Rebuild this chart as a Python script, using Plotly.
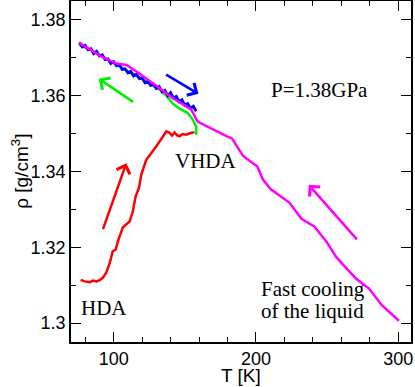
import plotly.graph_objects as go

# heating of HDA (red)
T_hda = [76.8, 79.6, 83.2, 85.5, 87.9, 90.2, 92.5, 94.9, 97.2, 99.3, 101.4, 103.7, 106.5,
         111.2, 113.5, 115.4, 117.8, 119.4, 122.9, 125.3, 127.5, 129.9, 133.7, 137.0,
         139.3, 141.0, 142.8, 144.5, 146.3, 148.5, 151.0, 153.5, 156.8]
rho_hda = [1.3114, 1.3110, 1.3108, 1.3112, 1.3110, 1.3113, 1.3120, 1.3134, 1.3158, 1.3189,
           1.3194, 1.3224, 1.3253, 1.3268, 1.3295, 1.3334, 1.3357, 1.3392, 1.3431, 1.3442,
           1.3452, 1.3466, 1.3487, 1.3506, 1.3502, 1.3495, 1.3503, 1.3496, 1.3493, 1.3499,
           1.3497, 1.3501, 1.3504]

# cooling of VHDA (green)
T_cool = [75.4, 83.2, 94.9, 104.2, 111.2, 118.2, 125.3, 132.3, 137.0, 141.6, 146.3,
          151.9, 155.6, 158.0, 158.0]
rho_cool = [1.3735, 1.3722, 1.3698, 1.3679, 1.3663, 1.3648, 1.3632, 1.3616, 1.3600,
            1.3579, 1.3566, 1.3555, 1.3537, 1.3518, 1.3497]

# reheating (blue)
T_heat = [76, 78, 80, 82, 84, 86, 88, 90, 92, 94, 96, 98, 100, 102, 104, 106, 108, 110,
          112, 114, 116, 118, 120, 122, 124, 126, 128, 130, 132, 134, 136, 138, 140, 142,
          144, 146, 148, 150, 152, 154, 156, 158]
rho_heat = [1.3740, 1.3729, 1.3733, 1.3721, 1.3724, 1.3711, 1.3717, 1.3705, 1.3708, 1.3695,
            1.3697, 1.3685, 1.3690, 1.3679, 1.3682, 1.3669, 1.3671, 1.3660, 1.3664, 1.3652,
            1.3657, 1.3645, 1.3647, 1.3634, 1.3638, 1.3627, 1.3631, 1.3619, 1.3624, 1.3610,
            1.3614, 1.3600, 1.3608, 1.3594, 1.3598, 1.3584, 1.3589, 1.3575, 1.3579, 1.3567,
            1.3572, 1.3559]

# fast cooling of the liquid (magenta)
T_fast = [75.5, 92.5, 102, 109, 116, 125, 132, 139, 146, 154.5, 159, 172, 180, 183, 191,
          201, 205, 210.5, 223.5, 232, 241, 249.5, 256.5, 263.5, 270.5, 279.5, 288.5, 300.5]
rho_fast = [1.3740, 1.3701, 1.3685, 1.3681, 1.3664, 1.3641, 1.3621, 1.3600, 1.3584, 1.3563,
            1.3532, 1.3506, 1.3492, 1.3488, 1.3441, 1.3413, 1.3378, 1.3353, 1.3318, 1.3275,
            1.3255, 1.3215, 1.3174, 1.3145, 1.3117, 1.3091, 1.3047, 1.3006]

y_ticks = [1.30, 1.32, 1.34, 1.36, 1.38]
y_ticktext = ["1.3", "1.32", "1.34", "1.36", "1.38"]

fig = go.Figure()
for T, rho, col, w in [(T_hda, rho_hda, "#ff0000", 2.5), (T_cool, rho_cool, "#00ee00", 2.5),
                       (T_heat, rho_heat, "#0000ff", 2.8), (T_fast, rho_fast, "#ff00ff", 2.5)]:
    fig.add_trace(go.Scatter(x=T, y=rho, mode="lines", line=dict(color=col, width=w),
                             showlegend=False))

# arrows: (tail T, tail rho, head T, head rho, colour)
arrows = [
    (92.1, 1.3244, 108.9, 1.3422, "#ff0000"),
    (114.7, 1.3581, 89.5, 1.3645, "#00ee00"),
    (135.8, 1.3658, 159.6, 1.3605, "#0000ff"),
    (271.9, 1.3217, 237.1, 1.3365, "#ff00ff"),
]
for tx, ty, hx, hy, col in arrows:
    fig.add_annotation(x=hx, y=hy, ax=tx, ay=ty, xref="x", yref="y", axref="x", ayref="y",
                       showarrow=True, arrowhead=4, arrowsize=1.1, arrowwidth=2.5,
                       arrowcolor=col, text="")

serif = dict(family="Liberation Serif", size=21, color="black")
labels = [
    ("P=1.38GPa", 244.6, 1.3616, "center"),
    ("VHDA", 164.6, 1.3427, "center"),
    ("HDA", 93.2, 1.3040, "center"),
    ("Fast cooling", 202.0, 1.3091, "left"),
    ("of the liquid", 202.0, 1.3033, "left"),
]
for txt, x, y, anchor in labels:
    fig.add_annotation(x=x, y=y, text=txt, showarrow=False, xanchor=anchor, font=serif)

# axis titles placed by hand so they sit where the reference has them
sans = dict(family="Liberation Sans", size=19, color="black")
fig.add_annotation(x=-0.152, y=0.5, xref="paper", yref="paper", text="ρ [g/cm<sup>3</sup>]",
                   textangle=-90, showarrow=False, xanchor="center", yanchor="middle",
                   font=sans)
fig.add_annotation(x=0.5, y=-0.097, xref="paper", yref="paper", text="T [K]",
                   showarrow=False, xanchor="center", yanchor="middle", font=sans)

axis_common = dict(showline=True, linecolor="black", linewidth=1.5, mirror="allticks",
                   ticks="inside", ticklen=10, tickwidth=1, tickcolor="black",
                   showgrid=False, zeroline=False, automargin=False,
                   tickfont=dict(family="Liberation Sans", size=18, color="black"))

fig.update_layout(
    width=415, height=387,
    margin=dict(l=71, r=4, t=1, b=45),
    plot_bgcolor="white", paper_bgcolor="white",
    xaxis=dict(range=[70, 309], tickvals=[100, 200, 300],
               minor=dict(dtick=20, tick0=0, ticks="inside", ticklen=5, tickcolor="black"),
               **axis_common),
    yaxis=dict(range=[1.295, 1.385], tickvals=y_ticks, ticktext=y_ticktext,
               minor=dict(dtick=0.01, tick0=1.3, ticks="inside", ticklen=5, tickcolor="black"),
               **axis_common),
)

# the page's default body margin would shift the 415x387 figure
fig.write_html("out.html", config={"displayModeBar": False},
               post_script="document.body.style.margin='0';")
